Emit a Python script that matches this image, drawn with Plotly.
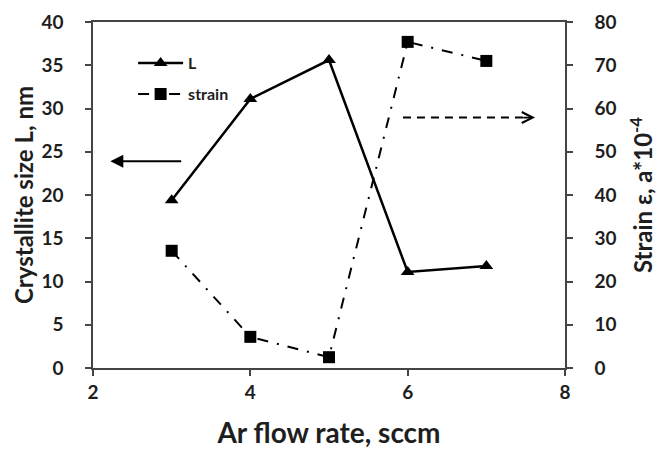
import plotly.graph_objects as go

# Ar flow rate (sccm)
flow_rate = [3, 4, 5, 6, 7]
# Crystallite size L (nm), left axis
crystallite_size = [19.4, 31.1, 35.6, 11.1, 11.8]
# Strain (a*10^-4), right axis
strain = [27.1, 7.2, 2.5, 75.4, 71.0]

x_ticks = [2, 4, 6, 8]
left_ticks = [0, 5, 10, 15, 20, 25, 30, 35, 40]
right_ticks = [0, 10, 20, 30, 40, 50, 60, 70, 80]

FONT = "Lato"
TEXT_COLOR = "#1e1e1e"
AXIS_COLOR = "#444444"

fig = go.Figure()

fig.add_trace(go.Scatter(
    x=flow_rate, y=crystallite_size, name="L", mode="lines+markers",
    line=dict(color="black", width=2.5),
    marker=dict(symbol="triangle-up", size=12, color="black"),
    legendgroup="a",
))
fig.add_trace(go.Scatter(
    x=flow_rate, y=strain, name="strain", mode="lines+markers", yaxis="y2",
    line=dict(color="black", width=2, dash="11px,9px,2px,9px"),
    marker=dict(symbol="square", size=12, color="black"),
    legendgroup="b",
))

axis_common = dict(
    automargin=False,
    showgrid=False, zeroline=False, showline=True, linecolor=AXIS_COLOR,
    linewidth=1.5, ticks="outside", ticklen=6, tickwidth=1.5, tickcolor=AXIS_COLOR,
    tickfont=dict(family=FONT, size=19, color=TEXT_COLOR, weight="bold"),
)

fig.update_layout(
    width=657, height=452,
    margin=dict(l=93, r=92, t=22, b=84),
    paper_bgcolor="white", plot_bgcolor="white",
    showlegend=True,
    legend=dict(
        x=0.085, y=0.93, xanchor="left", yanchor="top",
        bgcolor="rgba(0,0,0,0)", tracegroupgap=7, itemwidth=45,
        font=dict(family=FONT, size=16, color=TEXT_COLOR, weight="bold"),
    ),
    xaxis=dict(
        range=[2, 8], tickvals=x_ticks, mirror=True,
        title=dict(text="Ar flow rate, sccm", standoff=22,
                   font=dict(family=FONT, size=28, color=TEXT_COLOR, weight="bold")),
        **axis_common,
    ),
    yaxis=dict(
        range=[0, 40], tickvals=left_ticks, ticklabelstandoff=18,
        title=dict(text="Crystallite size L, nm", standoff=1,
                   font=dict(family=FONT, size=24, color=TEXT_COLOR, weight="bold")),
        **axis_common,
    ),
    yaxis2=dict(
        range=[0, 80], tickvals=right_ticks, overlaying="y", side="right",
        ticklabelstandoff=18,
        title=dict(text="Strain ε, a*10<sup>-4</sup>", standoff=23,
                   font=dict(family=FONT, size=24, color=TEXT_COLOR, weight="bold")),
        **axis_common,
    ),
)

# Arrow pointing to the left axis (crystallite size)
fig.add_annotation(
    x=2.22, y=23.9, ax=3.14, ay=23.9, xref="x", yref="y", axref="x", ayref="y",
    text="", showarrow=True, arrowhead=2, arrowsize=1.3, arrowwidth=2, arrowcolor="black",
)
# Dashed arrow pointing to the right axis (strain)
fig.add_shape(
    type="line", x0=5.94, x1=7.55, y0=57.9, y1=57.9, xref="x", yref="y2",
    line=dict(color="black", width=2, dash="8px,6px"),
)
fig.add_annotation(
    x=7.62, y=57.9, ax=7.45, ay=57.9, xref="x", yref="y2", axref="x", ayref="y2",
    text="", showarrow=True, arrowhead=5, arrowsize=1.2, arrowwidth=1.8, arrowcolor="black",
)

fig.write_html("out.html")
